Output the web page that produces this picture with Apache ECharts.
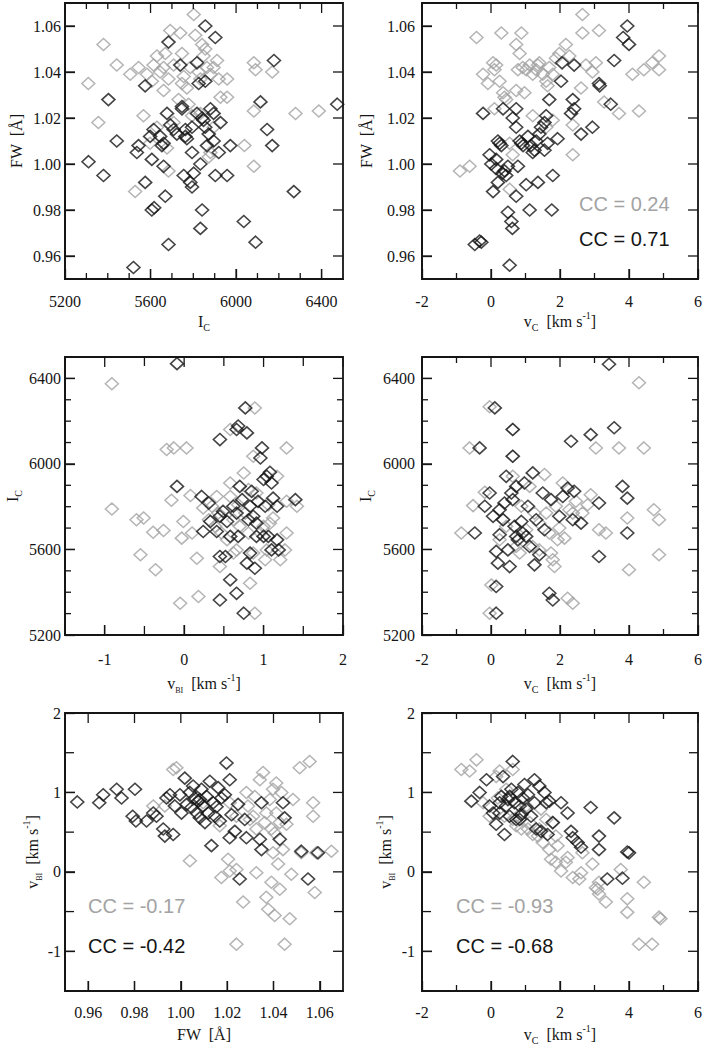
<!DOCTYPE html>
<html>
<head>
<meta charset="utf-8">
<script src="https://cdn.jsdelivr.net/npm/echarts@6/dist/echarts.min.js"></script>
<style>
html, body { margin: 0; padding: 0; background: #fff; }
#main { width: 706px; height: 1046px; }
</style>
</head>
<body>
<div id="main"></div>
<script>
// axis ranges and ticks
var fwRange = [0.95, 1.07];
var icRange = [5200, 6500];
var vcRange = [-2, 6];
var vbiRange = [-1.5, 2];

var fwTicks = [0.96, 0.98, 1.00, 1.02, 1.04, 1.06];
var icTicks = [5200, 5600, 6000, 6400];
var icMinor = [5300, 5400, 5500, 5700, 5800, 5900, 6100, 6200, 6300];
var vcTicks = [-2, 0, 2, 4, 6];
var vcMinor = [-1, 1, 3, 5];
var vbiTicks = [-1, 0, 1, 2];
var vbiMinor = [-1.5, -0.5, 0.5, 1.5];

// panel 1: I_C vs FW
var icFwGray = [[5309,1.035],[5380,1.052],[5356,1.018],[5442,1.043],[5528,0.988],[5567,1.021],[5505,1.039],[5544,1.042],[5583,1.039],[5606,1.036],[5614,1.043],[5630,1.047],[5645,1.040],[5661,1.032],[5669,1.048],[5684,1.037],[5692,1.058],[5708,1.043],[5731,1.028],[5739,1.057],[5747,1.048],[5755,1.038],[5770,1.033],[5778,1.026],[5786,1.042],[5802,1.065],[5809,1.056],[5825,1.040],[5841,1.052],[5848,1.047],[5864,1.042],[5880,1.039],[5895,1.042],[5911,1.045],[5919,1.037],[5958,1.037],[5958,1.029],[5927,1.029],[5833,1.022],[5794,1.021],[5684,0.997],[5630,1.016],[5598,1.009],[5895,1.016],[5880,1.005],[5872,1.003],[6039,1.008],[6083,0.999],[6083,1.044],[6091,1.041],[6083,1.023],[6169,1.040],[6278,1.022],[6387,1.023],[5708,1.018],[5661,1.042],[5833,1.037],[5747,1.035],[5856,1.050],[5677,1.007]];
var icFwBlack = [[5310,1.001],[5380,0.995],[5403,1.028],[5442,1.010],[5520,0.955],[5544,1.008],[5536,1.005],[5575,1.034],[5575,0.992],[5606,0.980],[5617,0.981],[5598,1.012],[5614,1.015],[5606,1.002],[5645,1.012],[5661,1.009],[5653,1.008],[5661,0.999],[5669,0.986],[5684,0.965],[5677,1.022],[5684,1.053],[5692,1.017],[5708,1.015],[5723,1.013],[5739,1.043],[5747,1.025],[5755,0.995],[5763,1.015],[5763,1.012],[5770,1.011],[5786,0.992],[5794,0.990],[5794,1.005],[5802,0.996],[5817,1.044],[5817,1.022],[5825,1.035],[5833,1.000],[5833,0.972],[5841,0.980],[5848,1.019],[5841,1.020],[5856,1.060],[5856,1.036],[5864,1.008],[5856,1.016],[5872,1.013],[5880,1.024],[5895,1.010],[5895,1.022],[5903,0.995],[5903,1.055],[5919,1.005],[5927,1.018],[5958,0.995],[5973,1.008],[6036,0.975],[6091,0.966],[6114,1.027],[6145,1.015],[6169,1.008],[6177,1.045],[6270,0.988],[6473,1.026],[5794,1.016],[5747,1.024]];

// panel 2: v_C vs FW
var vcFwGray = [[-0.9,0.997],[-0.62,0.999],[-0.42,1.055],[-0.23,1.039],[-0.09,1.035],[0.06,1.044],[0.10,1.041],[0.15,1.043],[0.30,1.057],[0.25,1.036],[0.35,1.031],[0.39,1.029],[0.44,1.028],[0.10,1.024],[0.54,0.989],[0.63,1.004],[0.73,1.052],[0.83,1.048],[0.88,1.057],[0.92,1.042],[0.78,1.041],[0.97,1.031],[1.02,1.041],[1.12,1.043],[1.21,1.039],[1.31,1.041],[1.40,1.044],[1.50,1.039],[1.60,1.036],[1.64,1.034],[1.69,1.042],[1.79,1.039],[1.88,1.046],[1.98,1.048],[2.17,1.052],[2.27,1.047],[2.37,1.017],[2.37,1.004],[2.65,1.065],[2.65,1.057],[2.61,1.033],[2.75,1.043],[2.94,1.040],[3.04,1.044],[3.13,1.058],[3.28,1.027],[3.71,1.022],[4.10,1.039],[4.29,1.023],[4.43,1.041],[4.67,1.044],[4.87,1.047],[4.87,1.041],[1.21,1.021],[1.60,1.016],[0.54,1.009],[1.36,1.043],[1.79,1.019],[0.73,1.032]];
var vcFwBlack = [[-0.47,0.965],[-0.33,0.9665],[-0.28,0.966],[-0.23,1.022],[-0.04,1.004],[0.01,1.000],[0.06,0.988],[0.15,1.002],[0.2,0.992],[0.2,1.010],[0.25,1.009],[0.3,1.008],[0.33,0.996],[0.39,0.997],[0.44,0.995],[0.35,1.024],[0.49,0.999],[0.49,0.979],[0.59,0.975],[0.62,0.972],[0.54,0.956],[0.63,1.020],[0.73,1.016],[0.73,1.024],[0.73,0.986],[0.78,0.999],[0.83,1.010],[0.88,1.009],[0.93,1.008],[1.02,0.991],[1.07,1.012],[1.12,0.980],[1.16,1.008],[1.21,1.005],[1.26,1.006],[1.36,0.992],[1.40,1.013],[1.45,1.016],[1.55,1.018],[1.60,1.021],[1.69,1.028],[1.76,0.980],[1.79,0.995],[1.93,1.011],[2.03,1.036],[2.06,1.044],[2.32,1.022],[2.37,1.028],[2.41,1.024],[2.41,1.043],[2.61,1.013],[2.94,1.016],[3.13,1.035],[3.15,1.034],[3.47,1.026],[3.57,1.045],[3.83,1.055],[3.95,1.060],[4.00,1.052],[1.55,1.006],[1.64,1.009],[1.31,1.010],[0.15,0.998]];

// panel 3: v_BI vs I_C
var vbiIcGray = [[-0.91,6375],[-0.91,5789],[-0.6,5739],[-0.51,5747],[-0.55,5575],[-0.39,5680],[-0.36,5505],[-0.26,5689],[-0.22,6067],[-0.13,6075],[-0.16,5830],[-0.01,5731],[-0.03,5653],[-0.05,5348],[0.03,6075],[0.08,5852],[0.10,5677],[0.16,5559],[0.18,5380],[0.24,5794],[0.31,5739],[0.35,5802],[0.39,5708],[0.43,5770],[0.45,5520],[0.47,5677],[0.54,5645],[0.58,6161],[0.58,5911],[0.62,5739],[0.66,5598],[0.70,5708],[0.75,5958],[0.77,5770],[0.81,5677],[0.83,5442],[0.87,6036],[0.89,6262],[0.89,5302],[0.91,5864],[0.96,5677],[1.02,5552],[1.04,5598],[1.06,5809],[1.12,5747],[1.17,5942],[1.21,5552],[1.27,5598],[1.29,6075],[1.29,5677],[1.29,5825],[1.42,5802],[0.41,5848],[0.58,5848],[0.68,5809],[0.81,5880],[1.08,5723],[0.62,5583],[0.87,5583],[1.00,5708]];
var vbiIcBlack = [[-0.09,6469],[-0.09,5895],[0.22,5848],[0.31,5817],[0.24,5684],[0.33,5731],[0.41,5684],[0.45,6114],[0.45,5755],[0.45,5567],[0.45,5364],[0.49,5778],[0.52,5567],[0.54,5731],[0.58,5458],[0.66,5395],[0.66,6161],[0.68,6177],[0.62,5802],[0.66,5770],[0.68,5661],[0.70,5895],[0.73,5833],[0.75,5302],[0.77,6262],[0.79,6145],[0.79,5536],[0.81,5739],[0.83,5802],[0.85,5872],[0.87,5755],[0.89,5512],[0.91,5661],[0.93,5825],[0.96,6028],[0.98,6075],[1.00,5927],[1.02,5802],[1.04,5942],[1.06,5661],[1.08,5961],[1.10,5911],[1.10,5598],[1.12,5840],[1.17,5802],[1.19,5598],[1.17,5645],[1.40,5833],[0.91,5723],[1.00,5661],[0.83,5583],[0.58,5661]];

// panel 4: v_C vs I_C
var vcIcGray = [[-0.86,5677],[-0.62,6075],[-0.52,5805],[-0.18,5867],[-0.04,6267],[0.01,5434],[-0.04,5302],[0.25,5645],[0.35,5739],[0.63,6161],[0.63,6036],[0.88,5802],[1.02,5692],[1.12,5895],[1.26,5770],[1.40,5723],[1.55,5950],[1.60,5770],[1.69,5677],[1.74,5583],[1.79,5552],[1.84,5520],[1.88,5802],[1.93,5645],[2.08,5911],[2.13,5653],[2.22,5372],[2.37,5348],[2.27,5786],[2.46,5825],[2.65,5770],[2.80,5809],[2.89,5856],[3.04,6075],[3.13,5692],[3.33,5677],[3.71,6075],[3.95,5747],[4.00,5505],[4.29,6380],[4.43,6075],[4.72,5786],[4.87,5739],[4.87,5575],[0.44,5708],[0.73,5614],[1.21,5614],[1.40,5598],[0.63,5942],[0.83,5583],[1.98,5700],[2.37,5770]];
var vcIcBlack = [[-0.47,5677],[-0.33,6075],[-0.18,5802],[-0.04,5864],[0.11,6262],[0.06,5755],[0.15,5427],[0.15,5302],[0.15,5591],[0.20,5536],[0.25,5786],[0.25,5669],[0.35,5739],[0.44,5942],[0.49,5598],[0.54,5520],[0.59,5864],[0.63,6161],[0.63,6036],[0.63,5833],[0.68,5708],[0.73,5895],[0.78,5645],[0.88,5731],[0.92,5677],[0.97,5911],[1.07,5802],[1.12,5614],[1.21,5958],[1.26,5528],[1.31,5739],[1.40,5575],[1.50,5864],[1.55,5692],[1.69,5395],[1.79,5364],[1.74,5833],[1.98,5755],[2.08,5848],[2.22,5887],[2.32,6106],[2.37,5739],[2.41,5872],[2.61,5723],[2.89,6137],[3.13,5817],[3.13,5567],[3.57,6169],[3.42,6466],[3.81,5895],[3.95,5840],[3.95,5677],[0.73,5661],[1.02,5661],[0.39,5817]];

// panel 5: FW vs v_BI
var fwVbiGray = [[0.9967,1.29],[0.9981,1.31],[0.9881,0.83],[0.9931,0.83],[1.0039,0.14],[1.0053,0.91],[1.0168,0.58],[1.0175,-0.07],[1.0204,0.16],[1.0211,0.01],[1.0240,0.03],[1.0240,-0.91],[1.0269,-0.38],[1.0283,1.00],[1.0290,0.83],[1.0312,0.70],[1.0319,0.95],[1.0326,-0.01],[1.0341,1.16],[1.0355,1.25],[1.0362,0.62],[1.0369,-0.32],[1.0377,-0.47],[1.0384,0.91],[1.0391,-0.13],[1.0398,0.24],[1.0398,1.04],[1.0405,-0.55],[1.0405,0.49],[1.0412,1.12],[1.0412,0.74],[1.0420,0.10],[1.0427,-0.22],[1.0427,0.62],[1.0434,1.00],[1.0441,0.28],[1.0448,-0.91],[1.0456,0.60],[1.0470,-0.59],[1.0477,-0.03],[1.0484,0.91],[1.0513,1.31],[1.0520,0.24],[1.0556,1.39],[1.0571,0.87],[1.0571,0.70],[1.0578,-0.26],[1.0585,0.24],[1.0650,0.26],[1.0298,0.66],[1.0326,0.54],[1.0369,0.74],[1.0391,0.54],[1.0096,0.87],[1.0211,0.87],[1.0240,0.70]];
var fwVbiBlack = [[0.9553,0.88],[0.9648,0.87],[0.9665,0.97],[0.9723,1.04],[0.9744,0.93],[0.9792,0.70],[0.9802,1.04],[0.9806,0.64],[0.9852,0.64],[0.9881,0.74],[0.9895,0.70],[0.9924,0.54],[0.9931,0.45],[0.9938,0.93],[0.9953,0.97],[0.9967,0.47],[0.9974,0.83],[0.9996,0.97],[1.0003,0.74],[1.0017,1.18],[1.0025,0.85],[1.0039,1.00],[1.0046,0.81],[1.0053,1.08],[1.0060,0.93],[1.0068,0.74],[1.0075,0.89],[1.0082,0.68],[1.0089,1.04],[1.0096,0.83],[1.0104,0.62],[1.0111,0.95],[1.0118,0.74],[1.0125,1.14],[1.0132,0.33],[1.0140,0.87],[1.0147,0.70],[1.0161,1.06],[1.0168,0.64],[1.0175,0.93],[1.0190,0.97],[1.0197,1.37],[1.0211,1.16],[1.0211,0.43],[1.0219,0.72],[1.0233,0.51],[1.0247,0.85],[1.0254,-0.09],[1.0276,0.66],[1.0283,0.43],[1.0348,0.87],[1.0341,0.41],[1.0348,0.28],[1.0427,0.41],[1.0441,0.87],[1.0448,0.68],[1.0520,0.26],[1.0549,-0.09],[1.0592,0.24],[1.0154,0.82],[1.0082,0.91]];

// panel 6: v_C vs v_BI
var vcVbiGray = [[-0.86,1.29],[-0.62,1.27],[-0.42,1.41],[-0.23,0.87],[-0.04,0.70],[0.15,1.20],[0.20,0.93],[0.25,1.27],[0.44,1.04],[0.63,1.29],[0.73,0.58],[0.88,0.54],[1.02,0.83],[1.07,0.54],[1.21,0.47],[1.36,0.45],[1.45,0.79],[1.50,0.37],[1.60,0.66],[1.69,0.28],[1.74,0.16],[1.88,0.12],[1.93,0.33],[2.03,0.01],[2.17,0.12],[2.22,0.18],[2.37,-0.07],[2.56,-0.09],[2.61,-0.01],[2.65,0.24],[2.94,0.10],[3.04,-0.20],[3.09,-0.22],[3.13,-0.13],[3.13,-0.28],[3.33,-0.38],[3.76,0.03],[3.95,-0.34],[3.95,-0.51],[4.29,-0.91],[4.43,-0.13],[4.67,-0.91],[4.87,-0.57],[4.91,-0.59],[0.88,0.74],[0.39,0.70],[1.12,0.62],[1.88,0.45],[1.40,0.54],[0.63,0.66],[1.79,0.62]];
var vcVbiBlack = [[-0.57,0.89],[-0.33,1.00],[-0.13,1.16],[-0.04,0.83],[0.06,0.74],[0.15,0.60],[0.25,0.87],[0.30,0.95],[0.35,1.20],[0.39,0.47],[0.44,0.83],[0.49,0.91],[0.54,0.70],[0.59,1.04],[0.63,1.39],[0.68,0.87],[0.73,0.66],[0.78,1.00],[0.83,0.83],[0.88,0.72],[0.92,0.93],[0.97,1.10],[1.02,0.79],[1.07,0.97],[1.16,0.70],[1.26,1.16],[1.26,0.87],[1.31,0.54],[1.40,1.08],[1.45,0.51],[1.55,1.00],[1.60,0.87],[1.64,0.47],[1.69,0.89],[1.79,0.62],[2.03,0.87],[2.22,0.74],[2.32,0.51],[2.37,0.43],[2.51,0.37],[2.61,0.31],[2.89,0.81],[3.13,0.45],[3.13,0.28],[3.37,-0.09],[3.57,0.68],[3.81,-0.08],[3.95,0.25],[4.00,0.24],[0.54,0.95],[0.25,0.74],[0.83,0.66]];

// correlation labels
var ccLabels = [
	{ panel: 1, gray: 'CC = 0.24', black: 'CC = 0.71' },
	{ panel: 4, gray: 'CC = -0.17', black: 'CC = -0.42' },
	{ panel: 5, gray: 'CC = -0.93', black: 'CC = -0.68' }
];

var GRAY = '#a3a3a3';
var INK = '#151515';
var SERIF = 'Liberation Serif';

var axisDefs = {
	fw: { range: fwRange, ticks: fwTicks, minor: [], minorLen: 6,
		fmt: function(v) { return v.toFixed(2); }, name: 'FW  [Å]' },
	ic: { range: icRange, ticks: icTicks, minor: icMinor, minorLen: 6,
		fmt: function(v) { return String(v); }, name: 'I{sub|C}' },
	vc: { range: vcRange, ticks: vcTicks, minor: vcMinor, minorLen: 6,
		fmt: function(v) { return String(v); }, name: 'v{sub|C}  [km s{sup|-1}]' },
	vbi: { range: vbiRange, ticks: vbiTicks, minor: vbiMinor, minorLen: 9,
		fmt: function(v) { return String(v); }, name: 'v{bi|BI}  [km s{sup|-1}]' }
};

var nameRich = {
	sub: { fontFamily: SERIF, fontSize: 10, lineHeight: 12, verticalAlign: 'bottom', color: INK },
	bi: { fontFamily: SERIF, fontSize: 8, lineHeight: 11, verticalAlign: 'bottom', color: INK },
	sup: { fontFamily: SERIF, fontSize: 10, lineHeight: 12, verticalAlign: 'top', color: INK }
};

var cols = [{ left: 65, width: 278 }, { left: 422, width: 276 }];
var rows = [{ top: 3, height: 276 }, { top: 357, height: 278 }, { top: 713, height: 279 }];

var panels = [
	{ row: 0, col: 0, x: 'ic', y: 'fw', gray: icFwGray, black: icFwBlack, xm: 14, xg: 31, ym: 4, yg: 38 },
	{ row: 0, col: 1, x: 'vc', y: 'fw', gray: vcFwGray, black: vcFwBlack, xm: 14, xg: 31, ym: 7, yg: 45 },
	{ row: 1, col: 0, x: 'vbi', y: 'ic', gray: vbiIcGray, black: vbiIcBlack, xm: 16, xg: 37, ym: 4, yg: 42 },
	{ row: 1, col: 1, x: 'vc', y: 'ic', gray: vcIcGray, black: vcIcBlack, xm: 16, xg: 37, ym: 7, yg: 46 },
	{ row: 2, col: 0, x: 'fw', y: 'vbi', gray: fwVbiGray, black: fwVbiBlack, xm: 13, xg: 32, ym: 4, yg: 22 },
	{ row: 2, col: 1, x: 'vc', y: 'vbi', gray: vcVbiGray, black: vcVbiBlack, xm: 13, xg: 32, ym: 7, yg: 26 }
];

var grids = [], xAxes = [], yAxes = [], series = [], graphics = [];

/*
 * 主坐标轴（下 / 左）：标签、名称和主刻度
 */
var makeAxis = function(list, gi, def, pos, margin, gap) {
	list.push({
		type: 'value', gridIndex: gi, position: pos,
		min: def.range[0], max: def.range[1],
		axisLine: { show: true, onZero: false, lineStyle: { color: INK, width: 1.8 } },
		axisTick: { show: true, inside: true, length: 10, customValues: def.ticks,
			lineStyle: { color: INK, width: 1.3 } },
		axisLabel: { show: true, customValues: def.ticks, margin: margin,
			formatter: def.fmt, fontFamily: SERIF, fontSize: 16, color: INK },
		splitLine: { show: false },
		name: def.name,
		nameLocation: 'middle', nameGap: gap,
		nameTextStyle: { fontFamily: SERIF, fontSize: 16, lineHeight: 22, color: INK, rich: nameRich }
	});
	return list.length - 1;
};

for (var i = 0; i < panels.length; i++) {
	var p = panels[i];
	var c = cols[p.col], r = rows[p.row];
	var xd = axisDefs[p.x], yd = axisDefs[p.y];
	grids.push({ left: c.left, top: r.top, width: c.width, height: r.height,
		show: true, borderColor: INK, borderWidth: 1.8 });
	var xi = makeAxis(xAxes, i, xd, 'bottom', p.xm, p.xg);
	var yi = makeAxis(yAxes, i, yd, 'left', p.ym, p.yg);
	series.push({
		type: 'scatter', xAxisIndex: xi, yAxisIndex: yi, data: p.gray,
		symbol: 'diamond', symbolSize: [13, 12],
		itemStyle: { color: 'rgba(0,0,0,0)', borderColor: GRAY, borderWidth: 1.5 }
	});
	series.push({
		type: 'scatter', xAxisIndex: xi, yAxisIndex: yi, data: p.black,
		symbol: 'diamond', symbolSize: [13, 12],
		itemStyle: { color: 'rgba(0,0,0,0)', borderColor: INK, borderWidth: 1.6 }
	});
}

// CC 文字位置
var ccPos = { 1: [579, 205, 240], 4: [88, 907, 947], 5: [456, 907, 947] };
for (var k = 0; k < ccLabels.length; k++) {
	var cc = ccLabels[k], pp = ccPos[cc.panel];
	graphics.push({ type: 'text', left: pp[0], top: pp[1] - 11,
		style: { text: cc.gray, font: '20px Liberation Sans', fill: GRAY } });
	graphics.push({ type: 'text', left: pp[0], top: pp[2] - 11,
		style: { text: cc.black, font: '20px Liberation Sans', fill: INK } });
}

var myChart = echarts.init(document.getElementById('main'), null, { renderer: 'svg' });
myChart.setOption({
	animation: false,
	backgroundColor: '#fff',
	grid: grids,
	xAxis: xAxes,
	yAxis: yAxes,
	series: series,
	graphic: graphics
});

/*
 * 四边刻度：由坐标轴换算成像素后画短线
 */
var tickLine = function(x1, y1, x2, y2) {
	return { type: 'line', z: 50, silent: true,
		shape: { x1: x1, y1: y1, x2: x2, y2: y2 },
		style: { stroke: INK, lineWidth: 1.3 } };
};
var ticks = [];
for (var j = 0; j < panels.length; j++) {
	var pj = panels[j];
	var dx = axisDefs[pj.x], dy = axisDefs[pj.y];
	var xs = [], ys = [];
	dx.ticks.forEach(function(v) { xs.push([v, 10]); });
	dx.minor.forEach(function(v) { xs.push([v, dx.minorLen]); });
	dy.ticks.forEach(function(v) { ys.push([v, 10]); });
	dy.minor.forEach(function(v) { ys.push([v, dy.minorLen]); });
	for (var a = 0; a < xs.length; a++) {
		var lo = myChart.convertToPixel({ gridIndex: j }, [xs[a][0], dy.range[0]]);
		var hi = myChart.convertToPixel({ gridIndex: j }, [xs[a][0], dy.range[1]]);
		ticks.push(tickLine(lo[0], lo[1], lo[0], lo[1] - xs[a][1]));
		ticks.push(tickLine(hi[0], hi[1], hi[0], hi[1] + xs[a][1]));
	}
	for (var b = 0; b < ys.length; b++) {
		var le = myChart.convertToPixel({ gridIndex: j }, [dx.range[0], ys[b][0]]);
		var ri = myChart.convertToPixel({ gridIndex: j }, [dx.range[1], ys[b][0]]);
		ticks.push(tickLine(le[0], le[1], le[0] + ys[b][1], le[1]));
		ticks.push(tickLine(ri[0], ri[1], ri[0] - ys[b][1], ri[1]));
	}
}
myChart.setOption({ graphic: graphics.concat(ticks) });
</script>
</body>
</html>
